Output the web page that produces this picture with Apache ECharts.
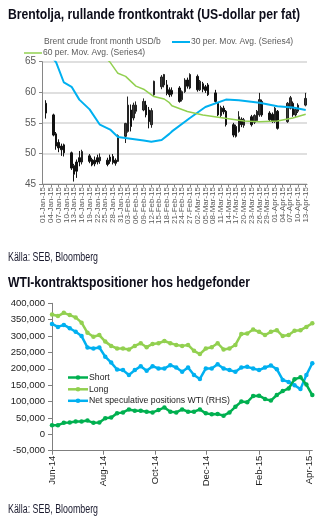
<!DOCTYPE html>
<html><head><meta charset="utf-8">
<script src="https://cdn.jsdelivr.net/npm/echarts@6/dist/echarts.min.js"></script>
<style>html,body{margin:0;padding:0;background:#fff}#c{width:325px;height:524px}</style>
</head><body><div id="c"></div>
<script>
// ---------- Top chart: Brent ----------
const brentYTicks = [45, 50, 55, 60, 65];
const brentDays = ['02-Jan-15','05-Jan-15','06-Jan-15','07-Jan-15','08-Jan-15','09-Jan-15',
 '12-Jan-15','13-Jan-15','14-Jan-15','15-Jan-15','16-Jan-15','19-Jan-15','20-Jan-15','21-Jan-15','22-Jan-15','23-Jan-15',
 '26-Jan-15','27-Jan-15','28-Jan-15','29-Jan-15','30-Jan-15','02-Feb-15','03-Feb-15','04-Feb-15','05-Feb-15','06-Feb-15',
 '09-Feb-15','10-Feb-15','11-Feb-15','12-Feb-15','13-Feb-15','16-Feb-15','17-Feb-15','18-Feb-15','19-Feb-15','20-Feb-15',
 '23-Feb-15','24-Feb-15','25-Feb-15','26-Feb-15','27-Feb-15','02-Mar-15','03-Mar-15','04-Mar-15','05-Mar-15','06-Mar-15',
 '09-Mar-15','10-Mar-15','11-Mar-15','12-Mar-15','13-Mar-15','16-Mar-15','17-Mar-15','18-Mar-15','19-Mar-15','20-Mar-15',
 '23-Mar-15','24-Mar-15','25-Mar-15','26-Mar-15','27-Mar-15','30-Mar-15','31-Mar-15','01-Apr-15','02-Apr-15',
 '06-Apr-15','07-Apr-15','08-Apr-15','09-Apr-15','10-Apr-15','13-Apr-15'];
const brentOpen  = [58.2,56.3,53.2,51.8,51.2,51.4, 50.1,48.0,48.6,49.3,48.6, 49.6,49.0,48.9,49.3,48.8, 48.9,49.4,49.5,48.9,48.7,
 52.8,53.6,57.1,55.8,56.9, 57.1,57.9,57.1,54.7,59.6, 60.9,61.2,61.2,60.4,60.3, 60.7,58.8,60.1,62.0,60.7, 62.6,60.4,61.4,60.9,61.2,
 59.9,58.2,56.2,57.4,56.9, 54.7,54.4,53.6,55.6,54.6, 56.0,55.1,55.4,56.3,58.5, 56.6,56.4,55.2,56.9, 55.2,57.4,58.2,56.3,56.9, 57.9];
const brentClose = [56.6,53.0,51.2,50.9,50.6,50.1, 47.6,46.6,47.1,48.6,50.3, 48.7,48.1,48.3,48.6,49.4, 48.2,48.7,48.5,48.4,52.9,
 54.9,57.9,54.4,57.9,57.9, 58.5,56.3,55.2,57.0,61.8, 62.5,62.9,59.8,59.6,59.7, 58.5,60.1,62.0,61.0,62.9, 60.4,61.8,60.5,60.3,59.6,
 58.5,56.3,57.5,56.8,54.7, 53.0,52.8,56.0,54.7,55.5, 54.7,56.2,56.9,58.8,56.3, 55.5,55.2,57.4,54.1, 58.2,59.1,56.3,57.2,57.9, 59.0];
const brentLow   = [55.7,52.8,50.6,50.2,49.6,49.5, 47.3,45.4,46.0,47.9,48.2, 48.4,47.9,47.9,48.2,48.3, 47.9,48.3,48.2,48.0,48.6,
 51.7,53.4,53.6,55.4,56.5, 56.9,55.9,54.1,54.2,59.4, 60.5,60.8,59.5,59.2,59.3, 58.3,58.5,59.9,60.6,60.5, 60.1,60.2,60.0,59.9,59.4,
 58.3,56.1,55.9,56.4,54.4, 52.65,52.6,53.4,54.3,54.2, 54.4,54.8,55.2,56.0,56.0, 55.2,55.0,55.0,53.9, 55.0,57.2,56.0,56.0,56.6, 57.7];
const brentHigh  = [58.7,56.5,53.5,52.3,51.6,51.6, 50.3,48.3,49.0,50.4,50.6, 49.9,49.3,49.5,49.8,50.0, 49.3,49.8,49.9,49.2,53.1,
 55.0,59.3,58.0,58.3,58.5, 59.0,58.6,57.6,57.4,61.9, 62.8,63.0,62.0,60.8,60.8, 61.0,60.3,62.3,62.4,63.1, 62.9,62.0,61.7,61.2,61.5,
 60.4,58.4,57.8,57.8,57.1, 55.0,54.7,56.9,55.9,55.8, 56.3,56.4,57.1,59.9,58.8, 56.9,56.7,57.6,57.1, 58.4,59.4,58.5,57.5,58.2, 59.9];
const ma30Days = ['05-Jan-15','06-Jan-15','09-Jan-15','12-Jan-15','15-Jan-15','19-Jan-15','23-Jan-15','27-Jan-15','30-Jan-15',
 '04-Feb-15','09-Feb-15','12-Feb-15','16-Feb-15','19-Feb-15','20-Feb-15','27-Feb-15','05-Mar-15','13-Mar-15','18-Mar-15',
 '26-Mar-15','02-Apr-15','08-Apr-15','13-Apr-15'];
const ma30Vals = [65.4,64.9,61.6,60.9,58.8,57.2,54.7,53.9,52.7, 52.4,52.1,51.9,52.2,53.2,53.6,55.8,57.6,58.8,58.7, 58.3,57.7,57.5,57.1];
const ma60Days = ['26-Jan-15','27-Jan-15','30-Jan-15','02-Feb-15','06-Feb-15','09-Feb-15','13-Feb-15','17-Feb-15','19-Feb-15',
 '20-Feb-15','26-Feb-15','04-Mar-15','12-Mar-15','20-Mar-15','26-Mar-15','02-Apr-15','08-Apr-15','13-Apr-15'];
const ma60Vals = [65.3,64.9,63.1,62.6,61.0,60.5,59.3,58.9,58.3, 57.8,56.85,56.3,55.8,55.3,55.2,55.3,55.8,56.4];

// calendar categories 01-Jan-15 .. 13-Apr-15
const MON = ['Jan','Feb','Mar','Apr','May','Jun','Jul','Aug','Sep','Oct','Nov','Dec'];
const brentCats = [];
for (let d = new Date(2015,0,1); d <= new Date(2015,3,13); d.setDate(d.getDate()+1)) {
  brentCats.push(String(d.getDate()).padStart(2,'0') + '-' + MON[d.getMonth()] + '-15');
}

// ---------- Bottom chart: WTI positions ----------
const wtiWeeks = ['2014-06-03','2014-06-10','2014-06-17','2014-06-24','2014-07-01','2014-07-08','2014-07-15','2014-07-22','2014-07-29',
 '2014-08-05','2014-08-12','2014-08-19','2014-08-26','2014-09-02','2014-09-09','2014-09-16','2014-09-23','2014-09-30',
 '2014-10-07','2014-10-14','2014-10-21','2014-10-28','2014-11-04','2014-11-11','2014-11-18','2014-11-25',
 '2014-12-02','2014-12-09','2014-12-16','2014-12-23','2014-12-30','2015-01-06','2015-01-13','2015-01-20','2015-01-27',
 '2015-02-03','2015-02-10','2015-02-17','2015-02-24','2015-03-03','2015-03-10','2015-03-17','2015-03-24','2015-03-31','2015-04-07'];
const wtiShort = [28000,28000,35000,36000,39000,39000,42000,35000,36000,49000,51000,64000,67000,76000,72000,72000,69000,67000,
 74000,82000,69000,67000,76000,69000,69000,76000,64000,61000,62000,57000,67000,84000,100000,98000,117000,118000,108000,103000,
 120000,132000,140000,168000,174000,152000,120000];
const wtiLong = [366000,361000,371000,364000,357000,341000,310000,298000,303000,283000,270000,262000,262000,259000,270000,278000,
 266000,276000,278000,285000,278000,273000,270000,273000,255000,245000,262000,266000,278000,259000,262000,273000,306000,308000,
 320000,313000,303000,313000,318000,300000,303000,316000,318000,328000,339000];
const wtiNet = [337000,328000,334000,324000,313000,300000,265000,262000,265000,237000,219000,198000,196000,181000,196000,208000,
 194000,208000,201000,201000,211000,204000,191000,204000,181000,169000,201000,201000,214000,201000,196000,191000,204000,206000,
 201000,196000,204000,210000,199000,166000,160000,150000,138000,181000,217000];
const wtiYTicks = [-50000,0,50000,100000,150000,200000,250000,300000,350000,400000];
const wtiLabelDates = ['2014-06-03','2014-08-03','2014-10-03','2014-12-03','2015-02-03','2015-04-03'];

// dates -> day number on a linear (value) date scale
const DAY = 86400000;
function dayNum(s){ const p = s.split('-'); return Math.round(Date.UTC(+p[0], +p[1]-1, +p[2]) / DAY); }
function dayLabel(n){ const d = new Date(n*DAY); return MON[d.getUTCMonth()] + '-' + String(d.getUTCFullYear()).slice(2); }

const gray = '#595959';
const sans = "'Liberation Sans',Arial,sans-serif";
const mctx = document.createElement('canvas').getContext('2d');
function fit(text, font, target){ mctx.font = font; return target / mctx.measureText(text).width; }

function squeezedText(x, y, text, font, fill, targetW){
  return {type:'text', x:x, y:y, scaleX:fit(text, font, targetW), scaleY:1,
          style:{x:0, y:0, text:text, font:font, fill:fill, verticalAlign:'middle'}};
}

const chart = echarts.init(document.getElementById('c'), null, {renderer:'canvas'});
const labelDays = wtiLabelDates.map(dayNum);
const titleFont = "bold 15px 'Liberation Sans',Arial,sans-serif";
const srcFont = "12px 'Liberation Sans',Arial,sans-serif";

// date labels every 3rd day, split over two overlaid category axes (alternating) so none is dropped
function dateAxis(phase, main){
  return {type:'category', gridIndex:0, data:brentCats, boundaryGap:true, position:'bottom',
    axisLine:{show:main, lineStyle:{color:'#868686', width:1}},
    axisTick:{show:main, interval:2, alignWithLabel:true, length:3, lineStyle:{color:'#868686'}},
    axisLabel:{interval:function(i){ return i % 6 === phase; }, rotate:90, margin:3,
               fontSize:8, color:gray, fontFamily:sans, showMinLabel:null, showMaxLabel:null},
    splitLine:{show:false}};
}

chart.setOption({
  animation:false,
  backgroundColor:'#fff',
  grid:[
    {left:42, top:61.7, width:265, height:122.3},
    {left:52, top:303.3, width:260.3, height:147.4}
  ],
  xAxis:[
    dateAxis(0, true),
    {type:'value', gridIndex:1, min:dayNum(wtiWeeks[0]), max:dayNum(wtiWeeks[wtiWeeks.length-1]), scale:true,
     axisLine:{onZero:false, lineStyle:{color:'#7f7f7f', width:1}},
     axisTick:{show:true, length:4, customValues:labelDays, lineStyle:{color:'#7f7f7f'}},
     axisLabel:{rotate:90, fontSize:9.5, color:'#222', fontFamily:sans, margin:5,
       customValues:labelDays, formatter:function(v){ return dayLabel(v); }},
     splitLine:{show:false}},
    dateAxis(3, false)
  ],
  yAxis:[
    {type:'value', gridIndex:0, min:brentYTicks[0], max:brentYTicks[brentYTicks.length-1], interval:5,
     axisLine:{show:true, lineStyle:{color:'#868686'}},
     axisTick:{show:true, length:3, lineStyle:{color:'#868686'}},
     axisLabel:{fontSize:10, color:gray, fontFamily:sans, margin:6},
     splitLine:{show:true, lineStyle:{color:'#D4D4D4', width:1.5}}},
    {type:'value', gridIndex:1, min:wtiYTicks[0], max:wtiYTicks[wtiYTicks.length-1], interval:50000,
     axisLine:{show:true, lineStyle:{color:'#7f7f7f'}},
     axisTick:{show:true, length:4, lineStyle:{color:'#7f7f7f'}},
     axisLabel:{fontSize:9.5, color:'#222', fontFamily:sans, margin:7,
       formatter:function(v){ return v.toLocaleString('en-US'); }},
     splitLine:{show:false}}
  ],
  series:[
    {type:'candlestick', name:'Brent crude front month USD/b', xAxisIndex:0, yAxisIndex:0, barWidth:2,
     encode:{x:0, y:[1,2,3,4]},
     data:brentDays.map((d,i)=>[brentCats.indexOf(d), brentOpen[i], brentClose[i], brentLow[i], brentHigh[i]]),
     itemStyle:{color:'#3a3a3a', color0:'#111', borderColor:'#222', borderColor0:'#111', borderWidth:1}},
    {type:'line', name:'30 per. Mov. Avg. (Series4)', xAxisIndex:0, yAxisIndex:0, showSymbol:false, symbol:'none',
     data:ma30Days.map((d,i)=>[brentCats.indexOf(d), ma30Vals[i]]),
     lineStyle:{color:'#00B0F0', width:2}, z:3},
    {type:'line', name:'60 per. Mov. Avg. (Series4)', xAxisIndex:0, yAxisIndex:0, showSymbol:false, symbol:'none',
     data:ma60Days.map((d,i)=>[brentCats.indexOf(d), ma60Vals[i]]),
     lineStyle:{color:'#92D050', width:1.5}, z:3},
    {type:'line', name:'Long', xAxisIndex:1, yAxisIndex:1, symbol:'circle', symbolSize:4.5,
     data:wtiWeeks.map((d,i)=>[dayNum(d), wtiLong[i]]),
     lineStyle:{color:'#92D050', width:2.5}, itemStyle:{color:'#92D050'}},
    {type:'line', name:'Net speculative positions WTI (RHS)', xAxisIndex:1, yAxisIndex:1, symbol:'circle', symbolSize:4.5,
     data:wtiWeeks.map((d,i)=>[dayNum(d), wtiNet[i]]),
     lineStyle:{color:'#00B0F0', width:2.5}, itemStyle:{color:'#00B0F0'}},
    {type:'line', name:'Short', xAxisIndex:1, yAxisIndex:1, symbol:'circle', symbolSize:4.5,
     data:wtiWeeks.map((d,i)=>[dayNum(d), wtiShort[i]]),
     lineStyle:{color:'#00B050', width:2.5}, itemStyle:{color:'#00B050'}}
  ],
  graphic:[
    squeezedText(8, 15, 'Brentolja, rullande frontkontrakt (US-dollar per fat)', titleFont, '#0d0d1a', 292),
    {type:'text', x:44, y:42, style:{text:'Brent crude front month USD/b', font:'8.5px '+sans, fill:gray, verticalAlign:'middle'}},
    {type:'line', shape:{x1:172, y1:42, x2:190, y2:42}, style:{stroke:'#00B0F0', lineWidth:2}},
    {type:'text', x:191, y:42, style:{text:'30 per. Mov. Avg. (Series4)', font:'8.5px '+sans, fill:gray, verticalAlign:'middle'}},
    {type:'line', shape:{x1:24, y1:53, x2:42, y2:53}, style:{stroke:'#92D050', lineWidth:1.5}},
    {type:'text', x:43, y:53, style:{text:'60 per. Mov. Avg. (Series4)', font:'8.5px '+sans, fill:gray, verticalAlign:'middle'}},
    squeezedText(8, 258, 'Källa: SEB, Bloomberg', srcFont, '#1a1a2e', 90),
    squeezedText(8, 283, 'WTI-kontraktspositioner hos hedgefonder', titleFont, '#0d0d1a', 242),
    {type:'line', shape:{x1:68, y1:377.5, x2:88, y2:377.5}, style:{stroke:'#00B050', lineWidth:2.5}},
    {type:'circle', shape:{cx:78, cy:377.5, r:2.3}, style:{fill:'#00B050'}},
    {type:'text', x:89, y:377.5, style:{text:'Short', font:'8.7px '+sans, fill:'#222', verticalAlign:'middle'}},
    {type:'line', shape:{x1:68, y1:389.3, x2:88, y2:389.3}, style:{stroke:'#92D050', lineWidth:2.5}},
    {type:'circle', shape:{cx:78, cy:389.3, r:2.3}, style:{fill:'#92D050'}},
    {type:'text', x:89, y:389.3, style:{text:'Long', font:'8.7px '+sans, fill:'#222', verticalAlign:'middle'}},
    {type:'line', shape:{x1:68, y1:400.8, x2:88, y2:400.8}, style:{stroke:'#00B0F0', lineWidth:2.5}},
    {type:'circle', shape:{cx:78, cy:400.8, r:2.3}, style:{fill:'#00B0F0'}},
    {type:'text', x:89, y:400.8, style:{text:'Net speculative positions WTI (RHS)', font:'8.7px '+sans, fill:'#222', verticalAlign:'middle'}},
    squeezedText(8, 510, 'Källa: SEB, Bloomberg', srcFont, '#1a1a2e', 90)
  ]
});
</script>
</body></html>
